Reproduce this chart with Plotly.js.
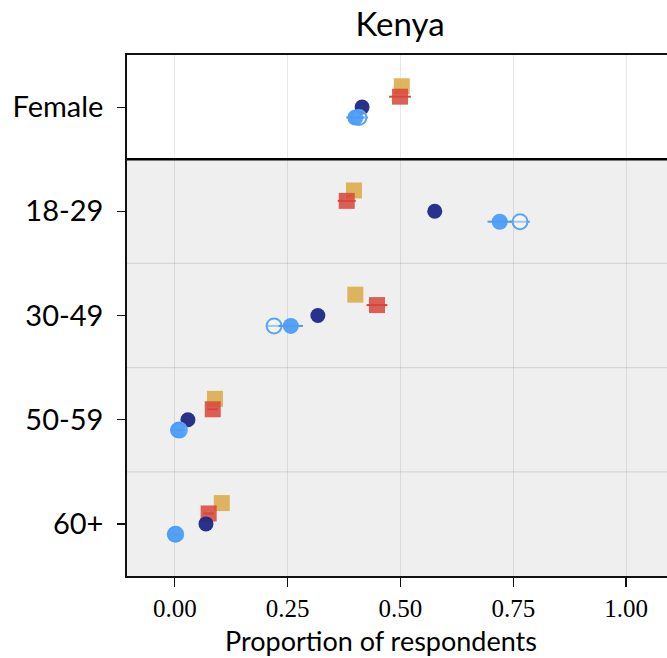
<!DOCTYPE html>
<html>
<head>
<meta charset="utf-8">
<script src="https://cdn.plot.ly/plotly-3.0.1.min.js"></script>
<style>
html,body{margin:0;padding:0;overflow:hidden;background:#fff;width:667px;height:658px;}
#chart{width:680px;height:658px;}
</style>
</head>
<body>
<div id="chart"></div>
<script>
// ---- data ----
var categories = ['Female', '18-29', '30-49', '50-59', '60+'];
var goldVals   = [0.503, 0.397, 0.400, 0.089, 0.104];
var redVals    = [0.499, 0.381, 0.448, 0.084, 0.075];
var redErr     = [0.024, 0.020, 0.023, 0.012, 0.012];
var navyVals   = [0.415, 0.576, 0.317, 0.029, 0.069];
var blueVals   = [0.400, 0.720, 0.257, 0.007, 0.000];
var blueErr    = [0.020, 0.027, 0.027, 0.010, 0.010];
var hollowVals = [0.408, 0.765, 0.220, 0.010, 0.002];
var hollowErr  = [0.020, 0.022, 0.018, 0.010, 0.010];
var xTicks     = [0, 0.25, 0.5, 0.75, 1.0];
var xTickText  = ['0.00', '0.25', '0.50', '0.75', '1.00'];
var chartTitle = 'Kenya';
var xTitle     = 'Proportion of respondents';

// ---- styling ----
var idx = categories.map(function(_, i){ return i; });
function ys(off){ return idx.map(function(i){ return i + off; }); }

var traces = [
  {x: goldVals, y: ys(-0.2), mode: 'markers', type: 'scatter',
   marker: {symbol: 'square', size: 16, color: '#DBA844', opacity: 0.85}},
  {x: redVals, y: ys(-0.1), mode: 'markers', type: 'scatter',
   error_x: {type: 'data', array: redErr, color: '#D8453A', thickness: 2, width: 0},
   marker: {symbol: 'square', size: 16, color: '#D8453A', opacity: 0.85}},
  {x: navyVals, y: ys(0), mode: 'markers', type: 'scatter',
   marker: {symbol: 'circle', size: 15, color: '#1C2785', opacity: 0.95}},
  {x: hollowVals, y: ys(0.1), mode: 'markers', type: 'scatter',
   error_x: {type: 'data', array: hollowErr, color: '#5AA5F5', thickness: 2, width: 0},
   marker: {symbol: 'circle', size: 15, color: 'rgba(255,255,255,0.4)', line: {color: '#5AA5F5', width: 2}}},
  {x: blueVals, y: ys(0.1), mode: 'markers', type: 'scatter',
   error_x: {type: 'data', array: blueErr, color: '#4C9CF5', thickness: 2, width: 0},
   marker: {symbol: 'circle', size: 16, color: '#4C9CF5', opacity: 0.95}}
];

var shapes = [
  {type: 'rect', xref: 'paper', yref: 'y', x0: 0, x1: 1, y0: 0.5, y1: 4.5,
   fillcolor: '#EFEFEF', line: {width: 0}, layer: 'below'}
];
[1.5, 2.5, 3.5].forEach(function(v){
  shapes.push({type: 'line', xref: 'paper', yref: 'y', x0: 0, x1: 1, y0: v, y1: v,
    line: {color: '#D6D6D6', width: 1.2}, layer: 'below'});
});
shapes.push({type: 'line', xref: 'paper', yref: 'y', x0: 0, x1: 1, y0: 0.5, y1: 0.5,
  line: {color: '#000', width: 2.5}, layer: 'above'});

var layout = {
  width: 680, height: 658,
  margin: {l: 127, r: 7, t: 55, b: 82},
  paper_bgcolor: '#fff', plot_bgcolor: '#fff',
  showlegend: false,
  title: {text: chartTitle, font: {family: 'Lato, sans-serif', size: 33, color: '#000'},
          x: 0.5, xref: 'paper', xanchor: 'center', y: 1, yref: 'container', yanchor: 'top', pad: {t: 13}},
  xaxis: {range: [-0.106, 1.104], tickvals: xTicks, ticktext: xTickText,
          tickfont: {family: 'Liberation Serif, serif', size: 25, color: '#000'},
          showgrid: true, gridcolor: 'rgba(0,0,0,0.09)', gridwidth: 1,
          zeroline: false, showline: true, linecolor: '#111', linewidth: 1.8, mirror: true,
          ticks: 'outside', ticklen: 9, tickcolor: '#111', tickwidth: 1.2, ticklabelstandoff: 0},
  yaxis: {range: [4.5, -0.5], tickvals: idx, ticktext: categories,
          tickfont: {family: 'Lato, sans-serif', size: 29, color: '#000'},
          showgrid: false, zeroline: false, showline: true, linecolor: '#111', linewidth: 1.8, mirror: true,
          ticks: 'outside', ticklen: 8, tickcolor: '#111', tickwidth: 1.2, ticklabelstandoff: 8},
  annotations: [
    {text: xTitle, xref: 'paper', yref: 'paper', x: 0.465, y: 0, yshift: -46,
     xanchor: 'center', yanchor: 'top', showarrow: false,
     font: {family: 'Lato, sans-serif', size: 27, color: '#000'}}
  ],
  shapes: shapes
};

Plotly.newPlot('chart', traces, layout, {displayModeBar: false, staticPlot: true});
</script>
</body>
</html>
